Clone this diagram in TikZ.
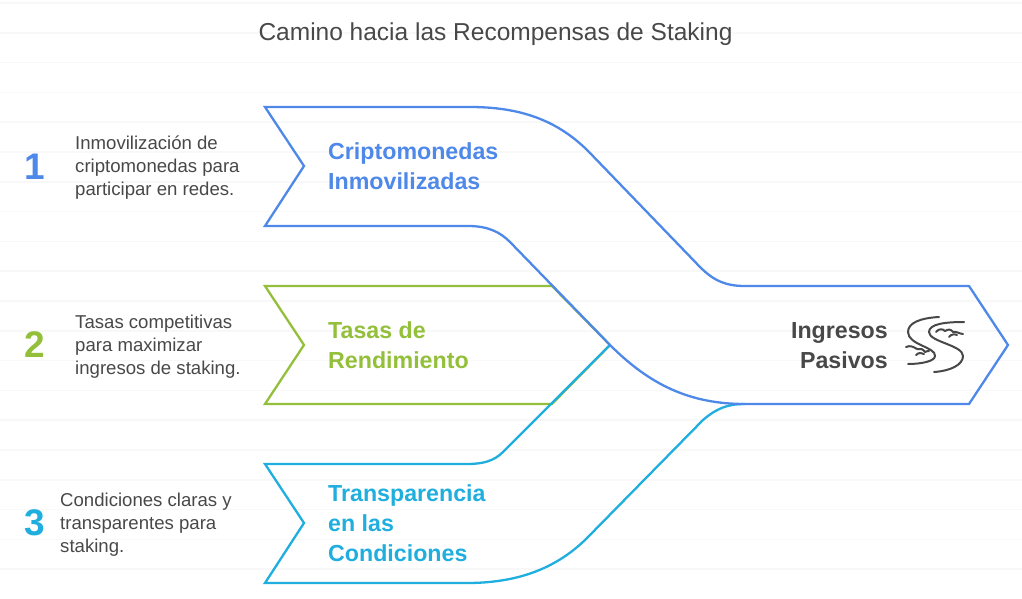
\documentclass[tikz,border=0pt]{standalone}
\usepackage{fontspec}
\setmainfont{Liberation Sans}
\definecolor{cblue}{HTML}{4E88E8}
\definecolor{cgreen}{HTML}{93BF3A}
\definecolor{ccyan}{HTML}{1FAEDE}
\definecolor{ctext}{HTML}{484848}
\definecolor{cgrid}{HTML}{F8F8F8}
\begin{document}
\begin{tikzpicture}[
  x=1pt, y=-1pt,
  band/.style={line width=2.3pt, line join=miter},
  head/.style={font=\fontsize{23.2}{30}\selectfont\bfseries, align=left, anchor=west, inner sep=0pt},
  desc/.style={font=\fontsize{18.6}{23}\selectfont, text=ctext, align=left, anchor=west, inner sep=0pt},
  num/.style={font=\fontsize{37}{40}\selectfont\bfseries, anchor=center, inner sep=0pt},
]
  \useasboundingbox (0,0) rectangle (1022,599);
  % Faint ruled background
  \foreach \k in {0,...,19} {\draw[cgrid, line width=1.6pt] (0,{3+29.8*\k}) -- (1022,{3+29.8*\k});}
  % Title
  \node[font=\fontsize{24.5}{28}\selectfont, text=ctext, inner sep=0pt] (title) at (495.5,34) {Camino hacia las Recompensas de Staking};
  % Green band first, the others run over its diagonal ends
  \draw[band, cgreen] (610,345) -- (552,286) -- (265,286) -- (304,345) -- (265,404) -- (552,404) -- (610,345);
  % Cyan band, open at the junction
  \draw[band, ccyan] (610,345) -- (503,452) .. controls (494,461) and (483,464) .. (467,464) -- (265,464) -- (304,523) -- (265,583) -- (467,583)
    .. controls (515,583) and (555,570) .. (587,538) -- (703,420) .. controls (717,408) and (728,404) .. (745,404);
  % Blue band, large one
  \draw[band, cblue] (265,107) -- (470,107) .. controls (520,107) and (558,120) .. (590,153) -- (700,267) .. controls (714,281) and (726,286) .. (745,286)
    -- (969,286) -- (1008,345) -- (969,404) -- (745,404)
    .. controls (690,404) and (650,385) .. (610,345) -- (510,242) .. controls (500,232) and (488,226) .. (468,226)
    -- (265,226) -- (304,166) -- cycle;
  % Numbers
  \node[num, text=cblue] (n1) at (34.5,167) {1};
  \node[num, text=cgreen] (n2) at (35,345) {2};
  \node[num, text=ccyan] (n3) at (35,523) {3};
  % Descriptions
  \node[desc] (d1) at (75,167.5) {Inmovilización de\\criptomonedas para\\participar en redes.};
  \node[desc] (d2) at (75,346.5) {Tasas competitivas\\para maximizar\\ingresos de staking.};
  \node[desc] (d3) at (60,524.5) {Condiciones claras y\\transparentes para\\staking.};
  % Band titles
  \node[head, text=cblue] (h1) at (328,166.5) {Criptomonedas\\Inmovilizadas};
  \node[head, text=cgreen] (h2) at (328,345.5) {Tasas de\\Rendimiento};
  \node[head, text=ccyan] (h3) at (328,523.5) {Transparencia\\en las\\Condiciones};
  \node[head, text=ctext, align=right, anchor=east] (h4) at (888,345.5) {Ingresos\\Pasivos};
  % River icon
  \begin{scope}[ctext, line width=2pt, line cap=round, line join=round]
    \draw (939,317) .. controls (920,318) and (908,323) .. (908,332) .. controls (908,345) and (936,347) .. (935,356) .. controls (935,361) and (922,364) .. (908,364);
    \draw (964,322) .. controls (945,322) and (929,324) .. (929,332) .. controls (929,342) and (963,345) .. (963,356) .. controls (963,365) and (950,371) .. (934,372);
    \draw (936,332) .. controls (939,328) and (943,329) .. (945,331) .. controls (948,329) and (951,329) .. (953,332) .. controls (956,331) and (960,334) .. (963,334);
    \draw (949,337) .. controls (951,334) and (955,334) .. (957,335);
    \draw (906,347) .. controls (910,345) and (914,347) .. (917,349) .. controls (920,348) and (923,349) .. (925,352) .. controls (927,351) and (928,351) .. (929,351);
    \draw (916,355) .. controls (919,352) and (922,353) .. (924,354);
  \end{scope}
\end{tikzpicture}
\end{document}
